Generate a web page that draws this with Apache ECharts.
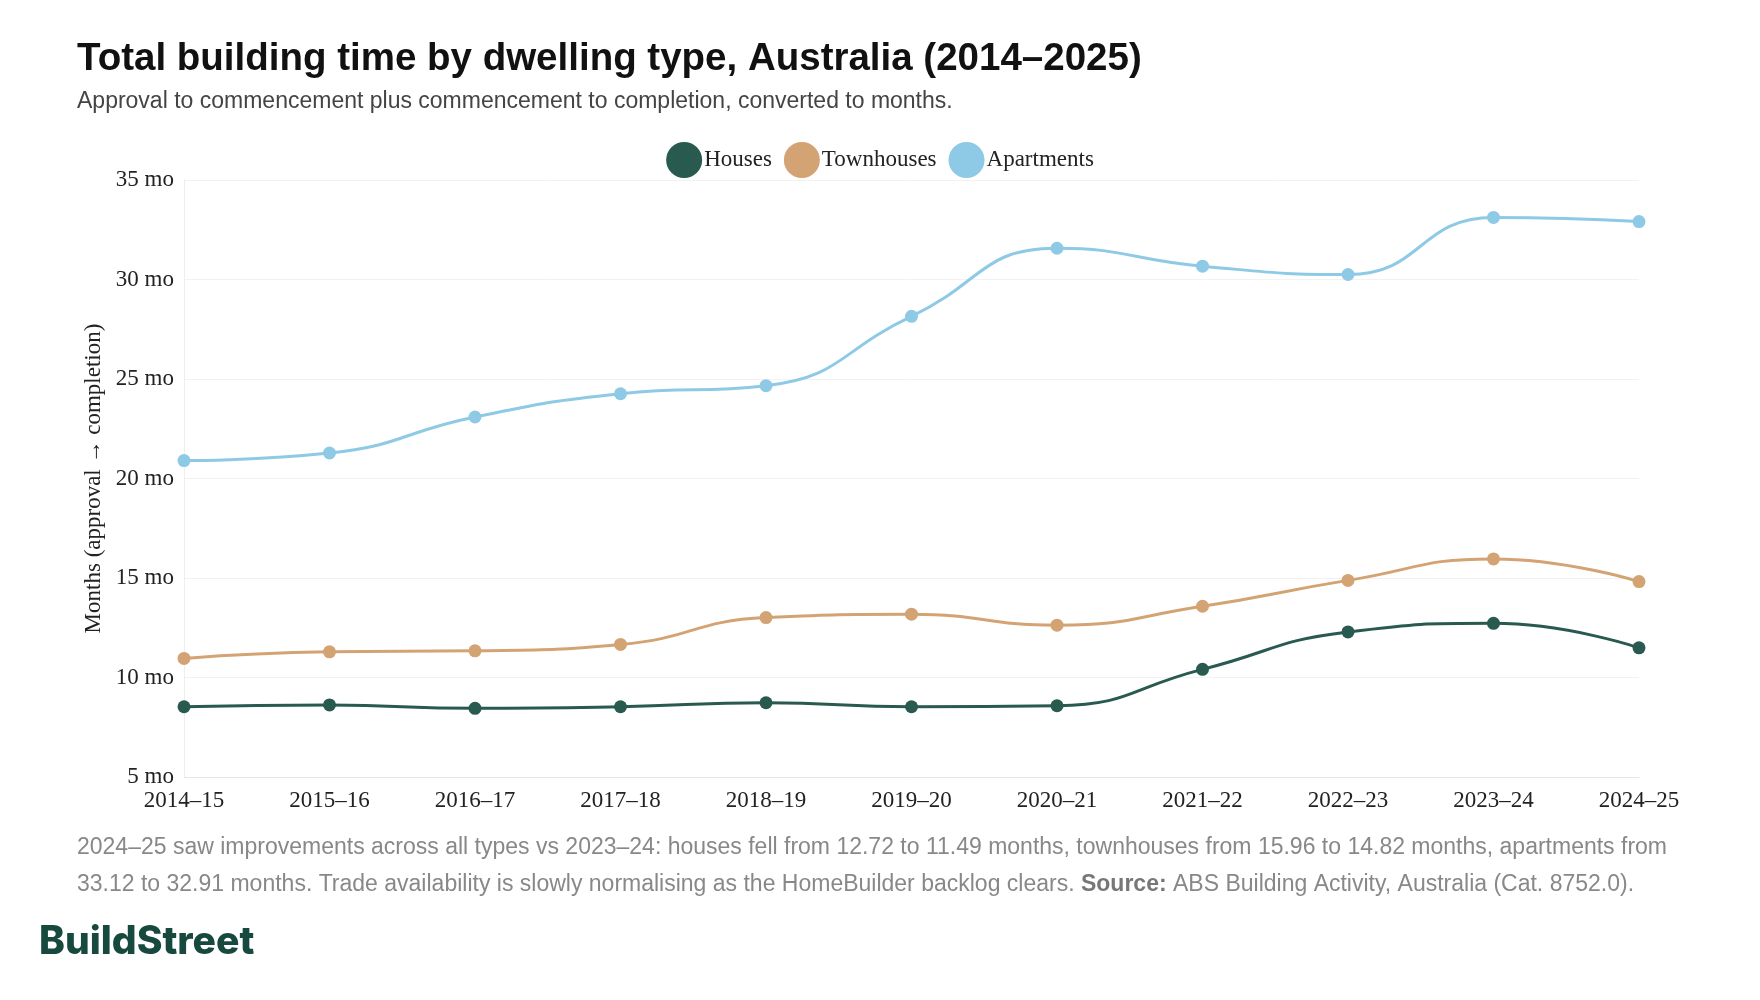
<!DOCTYPE html>
<html>
<head>
<meta charset="utf-8">
<script src="https://cdn.jsdelivr.net/npm/echarts@6/dist/echarts.min.js"></script>
<style>
  html, body { margin: 0; padding: 0; background: #fff; }
  #chart { width: 1760px; height: 1000px; }
</style>
</head>
<body>
<div id="chart"></div>
<script>
// financial years
const years = ['2014–15', '2015–16', '2016–17', '2017–18', '2018–19', '2019–20',
  '2020–21', '2021–22', '2022–23', '2023–24', '2024–25']

// months from approval to completion
const houses = [8.53, 8.62, 8.45, 8.53, 8.73, 8.53, 8.58, 10.41, 12.29, 12.72, 11.49]
const townhouses = [10.96, 11.29, 11.34, 11.66, 13.01, 13.18, 12.63, 13.58, 14.88, 15.96, 14.82]
const apartments = [20.9, 21.28, 23.09, 24.26, 24.66, 28.15, 31.57, 30.67, 30.25, 33.12, 32.91]

const colors = { houses: '#285a50', townhouses: '#d4a373', apartments: '#8ecae6' }
const serif = '"Liberation Serif", "DejaVu Serif", serif'
const sans = '"Liberation Sans", Arial, sans-serif'

const chart = echarts.init(document.getElementById('chart'))

function lineSeries(name, data, color) {
  return {
    name: name,
    type: 'line',
    data: data,
    smooth: 0.5,
    symbol: 'circle',
    symbolSize: 13,
    showSymbol: true,
    lineStyle: { width: 3, color: color },
    itemStyle: { color: color },
    emphasis: { disabled: true }
  }
}

chart.setOption({
  animation: false,
  title: {
    text: 'Total building time by dwelling type, Australia (2014–2025)',
    subtext: 'Approval to commencement plus commencement to completion, converted to months.',
    left: 77,
    top: 40,
    padding: 0,
    itemGap: 11,
    textStyle: { fontFamily: sans, fontSize: 38.5, fontWeight: 'bold', color: '#111' },
    subtextStyle: { fontFamily: sans, fontSize: 23, color: '#444' }
  },
  legend: {
    top: 137,
    left: 'center',
    icon: 'circle',
    itemWidth: 36,
    itemHeight: 36,
    itemGap: 12,
    textStyle: { fontFamily: serif, fontSize: 23, color: '#222', padding: [0, 0, 0, -3] },
    data: ['Houses', 'Townhouses', 'Apartments']
  },
  grid: { left: 184, right: 121, top: 180, bottom: 223 },
  xAxis: {
    type: 'category',
    data: years,
    boundaryGap: false,
    axisLine: { lineStyle: { color: '#e6e6e6' } },
    axisTick: { show: false },
    axisLabel: { fontFamily: serif, fontSize: 23, color: '#222', margin: 12 }
  },
  yAxis: {
    type: 'value',
    min: 5,
    max: 35,
    interval: 5,
    name: 'Months (approval → completion)',
    nameLocation: 'middle',
    nameGap: 76,
    nameTextStyle: { fontFamily: serif, fontSize: 23, color: '#222' },
    axisLine: { show: true, lineStyle: { color: '#eeeeee' } },
    axisTick: { show: false },
    axisLabel: { fontFamily: serif, fontSize: 23, color: '#222', margin: 10, formatter: '{value} mo' },
    splitLine: { lineStyle: { color: '#f2f2f2' } }
  },
  series: [
    lineSeries('Houses', houses, colors.houses),
    lineSeries('Townhouses', townhouses, colors.townhouses),
    lineSeries('Apartments', apartments, colors.apartments)
  ],
  graphic: [
    {
      type: 'text',
      left: 77,
      top: 836,
      style: {
        text: '{a|2024–25 saw improvements across all types vs 2023–24: houses fell from 12.72 to 11.49 months, townhouses from 15.96 to 14.82 months, apartments from}\n' +
          '{a|33.12 to 32.91 months. Trade availability is slowly normalising as the HomeBuilder backlog clears. }{b|Source:}{a| ABS Building Activity, Australia (Cat. 8752.0).}',
        rich: {
          a: { fontFamily: sans, fontSize: 23, fill: '#888888', lineHeight: 37 },
          b: { fontFamily: sans, fontSize: 23, fill: '#777777', fontWeight: 'bold', lineHeight: 37 }
        }
      }
    },
    {
      type: 'text',
      left: 39,
      top: 923,
      style: {
        text: 'BuildStreet',
        fontFamily: 'Inter, "Noto Sans", sans-serif',
        fontSize: 39,
        fontWeight: 800,
        fill: '#17493f'
      }
    }
  ]
})
</script>
</body>
</html>
